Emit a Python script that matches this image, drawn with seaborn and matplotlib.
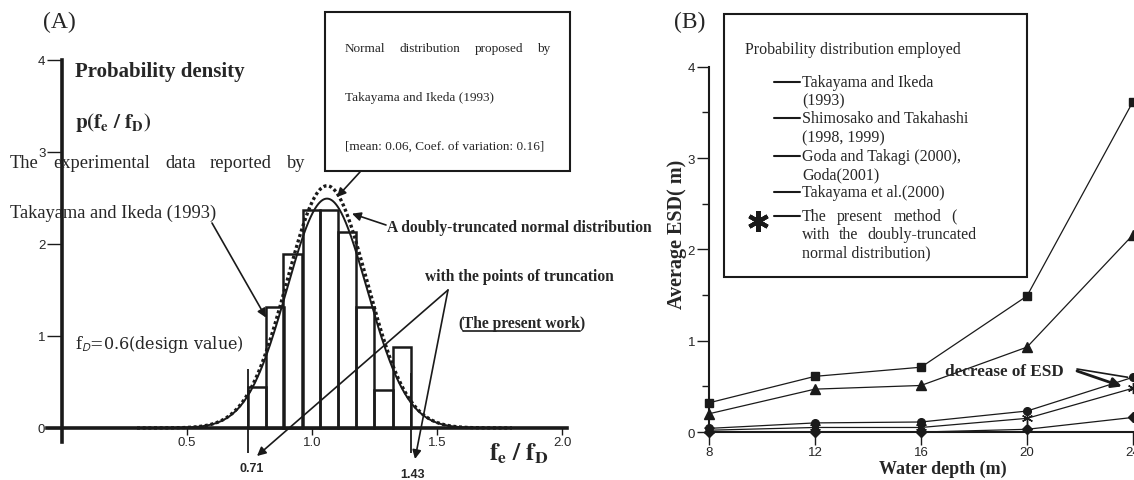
"""
Panel (A): experimental histogram of f_e/f_D with normal / truncated-normal fits.
Panel (B): average ESD against water depth for several probability models.
"""
import numpy as np
import matplotlib
matplotlib.use("Agg")
import matplotlib.pyplot as plt
import seaborn as sns
from matplotlib.patches import Rectangle, FancyArrowPatch
from matplotlib.lines import Line2D

sns.set_theme(style="white")
plt.rcParams["font.family"] = ["Liberation Serif", "DejaVu Serif"]
plt.rcParams["mathtext.fontset"] = "stix"

# ---------------------------------------------------------------
# data
# ---------------------------------------------------------------
bin_edges = [0.743, 0.816, 0.886, 0.962, 1.032, 1.105, 1.178, 1.249, 1.322, 1.396]
bin_heights = [0.45, 1.31, 1.89, 2.37, 2.37, 2.13, 1.31, 0.41, 0.88]
trunc_points = [0.744, 1.396]
trunc_tops = [0.64, 0.60]
trunc_labels = ["0.71", "1.43"]
norm_mean, norm_sd = 1.06, 0.16      # solid curve
trunc_scale = 1.056                  # dotted curve peak relative to solid

depth = [8, 12, 16, 20, 24]
esd_takayama_ikeda = [0.32, 0.61, 0.71, 1.49, 3.62]
esd_shimosako = [0.20, 0.47, 0.51, 0.93, 2.16]
esd_goda = [0.04, 0.10, 0.11, 0.23, 0.60]
esd_takayama_2000 = [0.00, 0.00, 0.00, 0.03, 0.16]
esd_present = [0.02, 0.05, 0.05, 0.15, 0.48]

legend_title = "Probability distribution employed"
legend_entries = [
    ["Takayama and Ikeda", "(1993)"],
    ["Shimosako and Takahashi", "(1998, 1999)"],
    ["Goda and Takagi (2000),", "Goda(2001)"],
    ["Takayama et al.(2000)"],
    ["The present method (", "with the doubly-truncated", "normal distribution)"],
]

# ---------------------------------------------------------------
# figure in pixel coordinates
# ---------------------------------------------------------------
W, H = 1134, 481
fig = plt.figure(figsize=(W / 100, H / 100), dpi=100)
fig.patch.set_facecolor("white")


def fx(px):
    return px / W


def fy(py):
    return 1 - py / H


def P(px, py):
    return (fx(px), fy(py))


def add_axes_px(x0, y0, x1, y1):
    ax = fig.add_axes([x0 / W, 1 - y1 / H, (x1 - x0) / W, (y1 - y0) / H])
    ax.patch.set_alpha(0)
    return ax


def spread(words, x0, x1, y, **kw):
    # justified line: words stretched between x0 and x1
    r = fig.canvas.get_renderer()
    ts = [fig.text(0, fy(y), w, va="center", **kw) for w in words]
    ws = [t.get_window_extent(r).width for t in ts]
    gap = (x1 - x0 - sum(ws)) / (len(words) - 1)
    x = x0
    for t, w in zip(ts, ws):
        t.set_x(fx(x))
        x += w + gap


sans = "Liberation Sans"
arrow = dict(arrowstyle="-|>", color="k", lw=1.2, mutation_scale=13, shrinkA=0, shrinkB=0)

# ---------------------------------------------------------------
# (A) histogram + density curves
# ---------------------------------------------------------------
axA = add_axes_px(12, 51.8, 567, 461.2)

mids = [(a + b) / 2 for a, b in zip(bin_edges[:-1], bin_edges[1:])]
sns.histplot(x=mids, weights=bin_heights, bins=bin_edges, fill=False,
             color="k", linewidth=1.8, ax=axA)

xs = np.linspace(0.3, 1.8, 500)
pdf = np.exp(-0.5 * ((xs - norm_mean) / norm_sd) ** 2) / (norm_sd * np.sqrt(2 * np.pi))
sns.lineplot(x=xs, y=pdf, color="k", lw=1.4, ax=axA)
sns.lineplot(x=xs, y=pdf * trunc_scale, color="k", lw=2.4,
             linestyle=(0, (0.9, 0.8)), ax=axA)
axA.vlines(trunc_points, -0.27, trunc_tops, color="k", lw=1.3, clip_on=False)

axA.set_xlim(-0.2, 2.02)
axA.set_ylim(-0.35, 4.1)
axA.set_xlabel("")
axA.set_ylabel("")
for s in ["top", "right"]:
    axA.spines[s].set_visible(False)
axA.spines["left"].set_position(("data", 0))
axA.spines["bottom"].set_position(("data", 0))
axA.spines["left"].set_bounds(-0.15, 4)
axA.spines["bottom"].set_bounds(-0.06, 2.02)
for s in ["left", "bottom"]:
    axA.spines[s].set_linewidth(2.6)
    axA.spines[s].set_color("k")
axA.set_yticks([0, 1, 2, 3, 4])
axA.set_xticks([0.5, 1.0, 1.5, 2.0], ["0.5", "1.0", "1.5", "2.0"])
axA.tick_params(axis="y", direction="out", length=11, width=1, pad=1,
                labelsize=9.5, labelfontfamily=sans, left=True, color="k")
axA.tick_params(axis="x", direction="out", length=5, width=1, pad=1,
                labelsize=9.5, labelfontfamily=sans, bottom=True, color="k")

fig.text(*P(59, 22), "(A)", fontsize=17, ha="center", va="center")
fig.text(*P(75, 72), "Probability density", fontsize=15, weight="bold", va="center")
fig.text(*P(75, 122), r"$\mathbf{p(f_e\ /\ f_D)}$", fontsize=15, va="center")
spread(["The", "experimental", "data", "reported", "by"], 10, 305, 163, fontsize=13.3)
fig.text(*P(10, 213), "Takayama and Ikeda (1993)", fontsize=13.3, va="center")
fig.text(*P(75, 345), r"f$_\mathsf{D}$=0.6(design value)", fontsize=11.5,
         family="DejaVu Serif", va="center")
axA.annotate("", xy=(0.816, 1.2), xytext=P(212, 224),
             textcoords="figure fraction", arrowprops=arrow)

fig.patches.append(Rectangle(P(325, 172), (570 - 325) / W, (172 - 13) / H,
                             transform=fig.transFigure, fill=False, ec="k", lw=1.5))
spread(["Normal", "distribution", "proposed", "by"], 345, 550, 49, fontsize=9.5)
fig.text(*P(345, 98), "Takayama and Ikeda (1993)", fontsize=9.5, va="center")
fig.text(*P(345, 147), "[mean: 0.06, Coef. of variation: 0.16]", fontsize=9.5, va="center")
axA.annotate("", xy=(1.10, 2.51), xytext=P(360, 173),
             textcoords="figure fraction", arrowprops=arrow)

fig.text(*P(387, 228), "A doubly-truncated normal distribution", fontsize=11.2,
         weight="bold", va="center")
axA.annotate("", xy=(1.16, 2.33), xytext=P(386, 226),
             textcoords="figure fraction", arrowprops=arrow)
fig.text(*P(425, 277), "with the points of truncation", fontsize=11.2,
         weight="bold", va="center")

# "(The present work)" with underline
r = fig.canvas.get_renderer()
x = 458
for part in ["(", "The present work", ")"]:
    t = fig.text(*P(x, 324), part, fontsize=11.2, weight="bold", va="center")
    bb = t.get_window_extent(r)
    if part == "The present work":
        fig.add_artist(Line2D([fx(x), fx(x + bb.width)], [fy(332), fy(332)],
                              transform=fig.transFigure, color="k", lw=1.2))
    x += bb.width

fig.add_artist(FancyArrowPatch(P(448, 291), P(257, 457),
                               transform=fig.transFigure, **arrow))
fig.add_artist(FancyArrowPatch(P(448, 291), P(415, 460),
                               transform=fig.transFigure, **arrow))
fig.text(*P(252, 469), trunc_labels[0], fontsize=9, weight="bold", family=sans,
         ha="center", va="center")
fig.text(*P(413, 475), trunc_labels[1], fontsize=9, weight="bold", family=sans,
         ha="center", va="center")
fig.text(*P(489, 454), r"$\mathbf{f_e\ /\ f_D}$", fontsize=18, va="center")

# ---------------------------------------------------------------
# (B) average ESD vs water depth
# ---------------------------------------------------------------
axB = add_axes_px(690.45, 58.7, 1135.65, 451.3)
series = [
    (esd_takayama_ikeda, "s", 5.5),
    (esd_shimosako, "^", 7),
    (esd_goda, "o", 5.5),
    (esd_takayama_2000, "D", 5),
    (esd_present, (6, 2, 0), 8),
]
for vals, mk, ms in series:
    sns.lineplot(x=depth, y=vals, color="k", lw=0.9, marker=mk, markersize=ms,
                 mec="k", mfc="k", mew=1, clip_on=False, ax=axB)

axB.set_xlim(7.3, 24.1)
axB.set_ylim(-0.2, 4.1)
axB.set_xlabel("")
axB.set_ylabel("")
for s in ["top", "right"]:
    axB.spines[s].set_visible(False)
axB.spines["left"].set_position(("data", 8))
axB.spines["bottom"].set_position(("data", 0))
axB.spines["left"].set_bounds(0, 4)
axB.spines["bottom"].set_bounds(8, 24.1)
for s in ["left", "bottom"]:
    axB.spines[s].set_linewidth(1.5)
    axB.spines[s].set_color("k")
axB.set_xticks(depth)
axB.set_yticks([0, 1, 2, 3, 4])
axB.set_yticks([0.5, 1.5, 2.5, 3.5], minor=True)
axB.tick_params(axis="both", which="major", direction="out", length=9, width=1,
                pad=1, labelsize=9.5, labelfontfamily=sans, left=True, bottom=True,
                color="k")
axB.tick_params(axis="y", which="minor", direction="out", length=5, width=1,
                left=True, color="k")

fig.text(*P(690, 22), "(B)", fontsize=17, ha="center", va="center")
fig.text(*P(677, 234), "Average ESD( m)", fontsize=14.5, weight="bold",
         rotation=90, ha="center", va="center")
fig.text(*P(943, 469), "Water depth (m)", fontsize=13, weight="bold",
         ha="center", va="center")
fig.text(*P(945, 372), "decrease of ESD", fontsize=12.3, weight="bold", va="center")
axB.annotate("", xy=(23.8, 0.6), xytext=P(1077, 370), textcoords="figure fraction",
             arrowprops=dict(arrowstyle="-", color="k", lw=1.2, shrinkA=0, shrinkB=0))
axB.annotate("", xy=(23.58, 0.5), xytext=P(1077, 372), textcoords="figure fraction",
             arrowprops=dict(arrowstyle="-|>", color="k", lw=2, mutation_scale=15,
                             shrinkA=0, shrinkB=0))

# legend box
fig.patches.append(Rectangle(P(724, 278), (1027 - 724) / W, (278 - 15) / H,
                             transform=fig.transFigure, fill=False, ec="k", lw=1.5))
fig.text(*P(745, 50), legend_title, fontsize=11.5, va="center")
row_y = [[83, 101], [119, 138], [157, 175], [193], [217, 235, 253]]
for lines, ys in zip(legend_entries, row_y):
    fig.add_artist(Line2D([fx(774), fx(800)], [fy(ys[0]), fy(ys[0])],
                          transform=fig.transFigure, color="k", lw=1.5))
    for txt, yy in zip(lines, ys):
        if txt.startswith("The present"):
            spread(txt.split(" "), 802, 957, yy, fontsize=11.5)
        elif txt.startswith("with the"):
            spread(txt.split(" "), 802, 976, yy, fontsize=11.5)
        else:
            fig.text(*P(802, yy), txt, fontsize=11.5, va="center")
fig.add_artist(Line2D([fx(758)], [fy(222)], marker=(6, 2, 0), ms=15, mew=3,
                      color="k", transform=fig.transFigure))

fig.savefig("out.png", dpi=100)
